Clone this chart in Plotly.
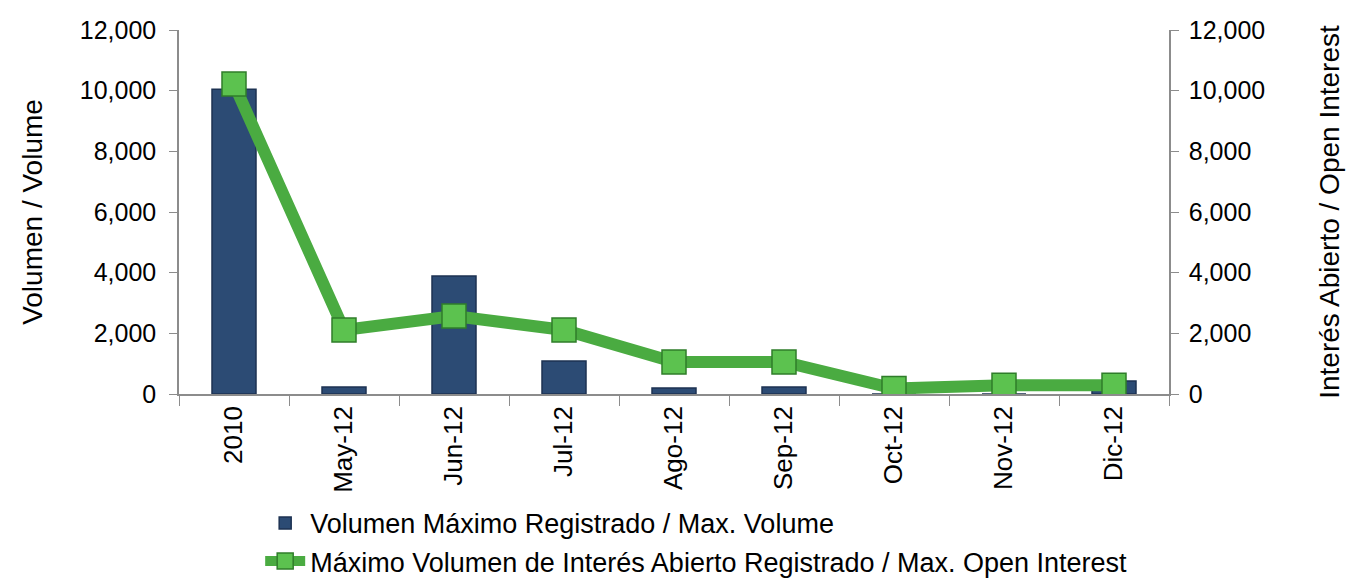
import plotly.graph_objects as go

months = ["2010", "May-12", "Jun-12", "Jul-12", "Ago-12", "Sep-12", "Oct-12", "Nov-12", "Dic-12"]
max_volume = [10050, 230, 3890, 1090, 200, 230, 0, 0, 430]
max_open_interest = [10220, 2110, 2570, 2110, 1055, 1055, 180, 290, 290]

font = "Liberation Sans, Arial, sans-serif"
axis_grey = "#8c8c8c"

fig = go.Figure()

fig.add_trace(go.Bar(
    x=months,
    y=max_volume,
    name="Volumen Máximo Registrado / Max. Volume",
    marker=dict(color="#2c4b74", line=dict(color="#1c3252", width=1.5)),
    width=0.4,
))

fig.add_trace(go.Scatter(
    x=months,
    y=max_open_interest,
    name="Máximo Volumen de Interés Abierto Registrado / Max. Open Interest",
    yaxis="y2",
    mode="lines+markers",
    line=dict(color="#4aab41", width=12),
    marker=dict(symbol="square", size=24, color="#5cc24f",
                line=dict(color="#2f7d2a", width=1.5)),
))

# page has an 8px body margin, so the figure is a bit smaller than the window
fig.update_layout(
    width=1359,
    height=570,
    margin=dict(l=171, r=198, t=22, b=184, autoexpand=False),
    plot_bgcolor="white",
    paper_bgcolor="white",
    font=dict(family=font, size=26, color="black"),
    showlegend=True,
    legend=dict(
        orientation="v",
        x=0.082, xanchor="left",
        y=-0.288, yanchor="top",
        font=dict(size=27),
        itemwidth=40,
    ),
    xaxis=dict(
        type="category",
        range=[-0.5, len(months) - 0.5],
        tickangle=-90,
        ticks="outside",
        tickson="boundaries",
        ticklen=10,
        tickcolor=axis_grey,
        showline=True,
        linecolor=axis_grey,
        linewidth=1.5,
        showgrid=False,
        automargin=False,
        tickfont=dict(size=26),
    ),
    yaxis=dict(
        range=[0, 12000],
        dtick=2000,
        tickformat=",",
        ticks="outside",
        ticklen=8,
        ticklabelstandoff=8,
        tickcolor=axis_grey,
        showline=True,
        linecolor=axis_grey,
        linewidth=1.5,
        showgrid=False,
        zeroline=False,
        automargin=False,
        title=dict(text="Volumen / Volume", font=dict(size=28), standoff=29),
        tickfont=dict(size=25),
    ),
    yaxis2=dict(
        range=[0, 12000],
        dtick=2000,
        tickformat=",",
        overlaying="y",
        side="right",
        ticks="outside",
        ticklen=8,
        ticklabelstandoff=5,
        tickcolor=axis_grey,
        showline=True,
        linecolor=axis_grey,
        linewidth=1.5,
        showgrid=False,
        zeroline=False,
        automargin=False,
        title=dict(text="Interés Abierto / Open Interest", font=dict(size=28), standoff=55),
        tickfont=dict(size=25),
    ),
)

fig.write_html("out.html")
